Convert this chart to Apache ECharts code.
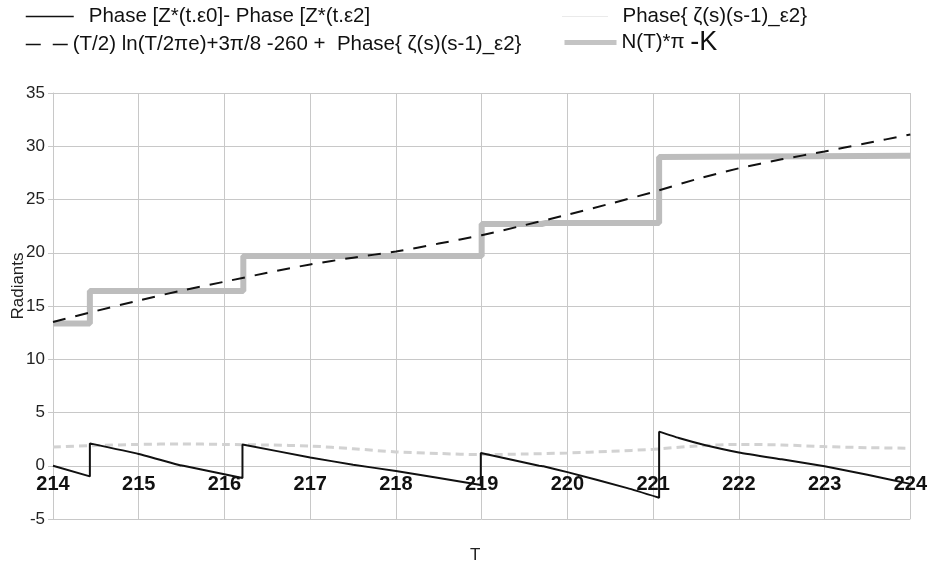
<!DOCTYPE html>
<html>
<head>
<meta charset="utf-8">
<script src="https://cdn.jsdelivr.net/npm/echarts@6/dist/echarts.min.js"></script>
<style>
html,body{margin:0;padding:0;background:#fff;}
#main{width:930px;height:565px;}
</style>
</head>
<body>
<div id="main"></div>
<script>
// ---- data ----
var seriesNames = [
  'Phase [Z*(t.ε0]- Phase [Z*(t.ε2]',
  '(T/2) ln(T/2πe)+3π/8 -260 +  Phase{ ζ(s)(s-1)_ε2}',
  'Phase{ ζ(s)(s-1)_ε2}',
  'N(T)*π -K'
];
var xTicks = [214, 215, 216, 217, 218, 219, 220, 221, 222, 223, 224];
var yTicks = [-5, 0, 5, 10, 15, 20, 25, 30, 35];

// Phase[Z*(t.e0)] - Phase[Z*(t.e2)] (sawtooth)
var diffT = [214, 214.43, 214.43, 215, 215.48, 215.52, 216.21, 216.21, 217, 217.5, 218, 218.99, 218.99, 219.67, 219.72, 220, 220.7, 221.07, 221.07, 221.3, 221.6, 222, 222.5, 223, 223.5, 224];
var diffV = [0, -1.0, 2.1, 1.1, 0.05, 0.0, -1.15, 2.0, 0.78, 0.1, -0.5, -1.8, 1.2, 0.0, -0.05, -0.6, -2.1, -3.0, 3.2, 2.6, 1.95, 1.25, 0.6, -0.05, -0.85, -1.7];

// Phase{ zeta(s)(s-1) e2 } and the dashed theta curve
var halfT = [214, 214.5, 215, 215.5, 216, 216.5, 217, 217.5, 218, 218.5, 219, 219.5, 220, 220.5, 221, 221.5, 222, 222.5, 223, 223.5, 224];
var phaseV = [1.75, 1.9, 2.0, 2.05, 2.0, 1.95, 1.85, 1.6, 1.3, 1.15, 1.05, 1.1, 1.2, 1.35, 1.55, 1.85, 2.0, 1.95, 1.8, 1.7, 1.65];
var thetaV = [13.5, 14.53, 15.52, 16.45, 17.28, 18.12, 18.9, 19.54, 20.12, 20.86, 21.65, 22.59, 23.57, 24.61, 25.7, 26.89, 27.93, 28.77, 29.51, 30.3, 31.1];

// N(T)*pi - K (staircase)
var stepT = [214, 214.43, 214.43, 216.22, 216.22, 219.0, 219.0, 219.7, 219.75, 221.07, 221.07, 224];
var stepV = [13.35, 13.35, 16.4, 16.4, 19.7, 19.7, 22.7, 22.7, 22.8, 22.8, 29.0, 29.1];

function pairs(xs, ys) { return xs.map(function (x, i) { return [x, ys[i]]; }); }

var FONT = '"Liberation Sans", Arial, sans-serif';
var LFS = 20.5;
var chart = echarts.init(document.getElementById('main'), null, {renderer: 'canvas'});

var noSymbol = {color: 'rgba(0,0,0,0)', borderWidth: 0, opacity: 0};
function lg(extra) {
  return Object.assign({
    orient: 'horizontal', selectedMode: false, padding: 0,
    itemHeight: 14, itemStyle: noSymbol,
    textStyle: {fontFamily: FONT, fontSize: LFS, color: '#111'}
  }, extra);
}

chart.setOption({
  backgroundColor: '#ffffff',
  animation: false,
  textStyle: {fontFamily: FONT},
  grid: {left: 53, right: 18, top: 93, bottom: 46, containLabel: false},
  legend: [
    lg({data: [seriesNames[0]], left: 25, top: 6, itemWidth: 48,
        lineStyle: {width: 1.5, color: '#111'},
        textStyle: {fontFamily: FONT, fontSize: LFS, color: '#111', padding: [0, 0, 0, 10]}}),
    lg({data: [seriesNames[1]], left: 25, top: 34, itemWidth: 42,
        lineStyle: {width: 1.5, color: '#111', type: [15, 12]}}),
    lg({data: [seriesNames[2]], left: 562, top: 6, itemWidth: 45,
        lineStyle: {type: 'dotted', width: 1, color: '#d4d4d4'},
        textStyle: {fontFamily: FONT, fontSize: LFS, color: '#111', padding: [0, 0, 0, 10]}}),
    lg({data: [seriesNames[3]], left: 562, top: 29, itemWidth: 52,
        lineStyle: {width: 5, color: '#c4c4c4'},
        formatter: function () { return '{a|N(T)*π }{b|-K}'; },
        textStyle: {fontFamily: FONT, fontSize: LFS, color: '#111',
          rich: {a: {fontFamily: FONT, fontSize: LFS, color: '#111'},
                 b: {fontFamily: FONT, fontSize: 27, color: '#111'}}}})
  ],
  xAxis: {
    type: 'value', min: 214, max: 224, interval: 1,
    offset: -53.25,
    axisLine: {show: true, onZero: false, lineStyle: {color: '#c8c8c8', width: 1}},
    axisTick: {show: false},
    axisLabel: {fontFamily: FONT, fontSize: 20, fontWeight: 'bold', color: '#111', margin: 9,
      formatter: function (v) { return String(v); }},
    splitLine: {show: true, lineStyle: {color: '#c8c8c8', width: 1}}
  },
  yAxis: {
    type: 'value', min: -5, max: 35, interval: 5,
    axisLine: {show: true, onZero: false, lineStyle: {color: '#c8c8c8', width: 1}},
    axisTick: {show: true, length: 5, lineStyle: {color: '#c8c8c8'}},
    axisLabel: {fontFamily: FONT, fontSize: 17, color: '#222', margin: 8},
    splitLine: {show: true, lineStyle: {color: '#c8c8c8', width: 1}}
  },
  graphic: [
    {type: 'text', left: 470, top: 547, style: {text: 'T', font: '17px ' + FONT, fill: '#222'}},
    {type: 'text', x: 18, y: 286, rotation: Math.PI / 2,
     style: {text: 'Radiants', font: '17px ' + FONT, fill: '#222', align: 'center', verticalAlign: 'middle'}}
  ],
  series: [
    {name: seriesNames[3], type: 'line', symbol: 'none', data: pairs(stepT, stepV),
     lineStyle: {color: '#bdbdbd', width: 6}, itemStyle: {color: '#bdbdbd'}, z: 2},
    {name: seriesNames[2], type: 'line', symbol: 'none', data: pairs(halfT, phaseV), smooth: 0.3,
     lineStyle: {color: '#d2d2d2', width: 3, type: [8, 5]}, itemStyle: {color: '#d2d2d2'}, z: 3},
    {name: seriesNames[1], type: 'line', symbol: 'none', data: pairs(halfT, thetaV), smooth: 0.3,
     lineStyle: {color: '#111', width: 2, type: [13, 10]}, itemStyle: {color: '#111'}, z: 4},
    {name: seriesNames[0], type: 'line', symbol: 'none', data: pairs(diffT, diffV), smooth: 0.15,
     lineStyle: {color: '#111', width: 2}, itemStyle: {color: '#111'}, z: 5}
  ]
});
</script>
</body>
</html>
